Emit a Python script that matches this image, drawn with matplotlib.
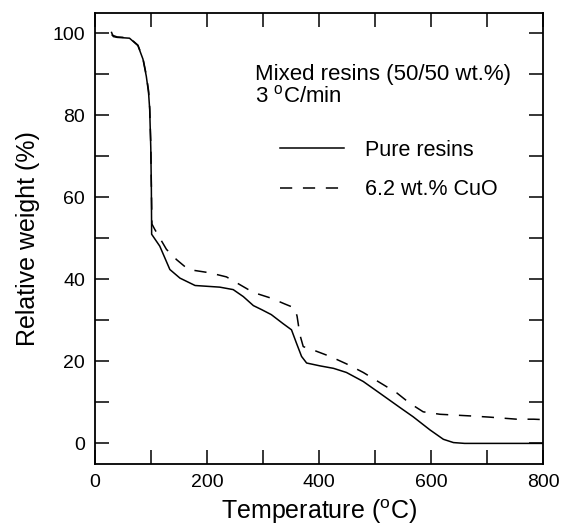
import numpy as np
import matplotlib.pyplot as plt
from matplotlib.ticker import MultipleLocator

plt.rcParams['font.family'] = ['Liberation Sans', 'DejaVu Sans']
plt.rcParams['mathtext.fontset'] = 'custom'
plt.rcParams['mathtext.rm'] = 'Liberation Sans'

# pure resins (solid)
t_pure = [30, 33, 40, 62, 77, 86, 92, 96, 98, 100, 101, 101.5, 116, 134, 152, 179, 223, 247, 265,
          283, 298, 315, 336, 351, 360, 369, 378, 402, 426, 449, 479, 509, 545, 568, 598, 622,
          640, 660, 700, 800]
w_pure = [100.2, 99.2, 99.0, 98.8, 97.0, 93.7, 89.5, 85.5, 81.5, 72, 62, 51, 48.1, 42.4, 40.3, 38.5,
          38.1, 37.5, 35.8, 33.6, 32.6, 31.4, 29.2, 27.7, 24.4, 21.2, 19.6, 18.9, 18.3, 17.3, 15.1,
          12.2, 8.7, 6.5, 3.3, 1.0, 0.2, 0.0, 0.0, 0.0]

# 6.2 wt.% CuO (dashed)
t_cuo = [30, 40, 62, 77, 86, 92, 96, 98, 100, 101, 102, 107, 128, 146, 167, 205, 235, 259, 283,
         315, 339, 357, 361, 366, 372, 393, 420, 449, 479, 509, 539, 562, 586, 616, 670, 705, 753,
         783, 800]
w_cuo = [99.6, 99.1, 98.9, 97.1, 93.9, 89.8, 86, 82, 73, 63, 53.5, 52.2, 47.3, 44.8, 42.4, 41.6,
         40.6, 38.7, 36.8, 35.4, 34.0, 33.0, 31.0, 26.5, 23.6, 22.6, 21.2, 19.4, 17.3, 14.8, 12.3,
         9.8, 7.7, 7.1, 6.7, 6.4, 5.9, 5.9, 5.8]

fig = plt.figure(figsize=(5.64, 5.32), dpi=100)
ax = fig.add_axes([0.168, 0.128, 0.795, 0.848])

ax.plot(t_pure, w_pure, 'k-', lw=1.1, label='Pure resins')
ax.plot(t_cuo, w_cuo, 'k--', lw=1.1, dashes=(8, 7), label='6.2 wt.% CuO')

ax.set_xlim(0, 800)
ax.set_ylim(-5, 105)
ax.xaxis.set_major_locator(MultipleLocator(200))
ax.xaxis.set_minor_locator(MultipleLocator(100))
ax.yaxis.set_major_locator(MultipleLocator(20))
ax.yaxis.set_minor_locator(MultipleLocator(10))
ax.tick_params(which='both', direction='in', top=True, right=True, labelsize=14, pad=7)
ax.tick_params(which='both', length=10, width=1.1)
for s in ax.spines.values():
    s.set_linewidth(1.3)

ax.set_xlabel('Temperature ($^{\\rm o}$C)', fontsize=18, labelpad=5)
ax.set_ylabel('Relative weight (%)', fontsize=18, labelpad=9)

ax.text(0.357, 0.887, 'Mixed resins (50/50 wt.%)\n3 $^{\\rm o}$C/min', transform=ax.transAxes,
        fontsize=16, va='top', ha='left', linespacing=1.05)

ax.legend(loc='upper left', bbox_to_anchor=(0.369, 0.761), frameon=False, fontsize=15.5,
          handlelength=3.0, handletextpad=0.95, labelspacing=0.84)

fig.savefig('out.png', dpi=100)
